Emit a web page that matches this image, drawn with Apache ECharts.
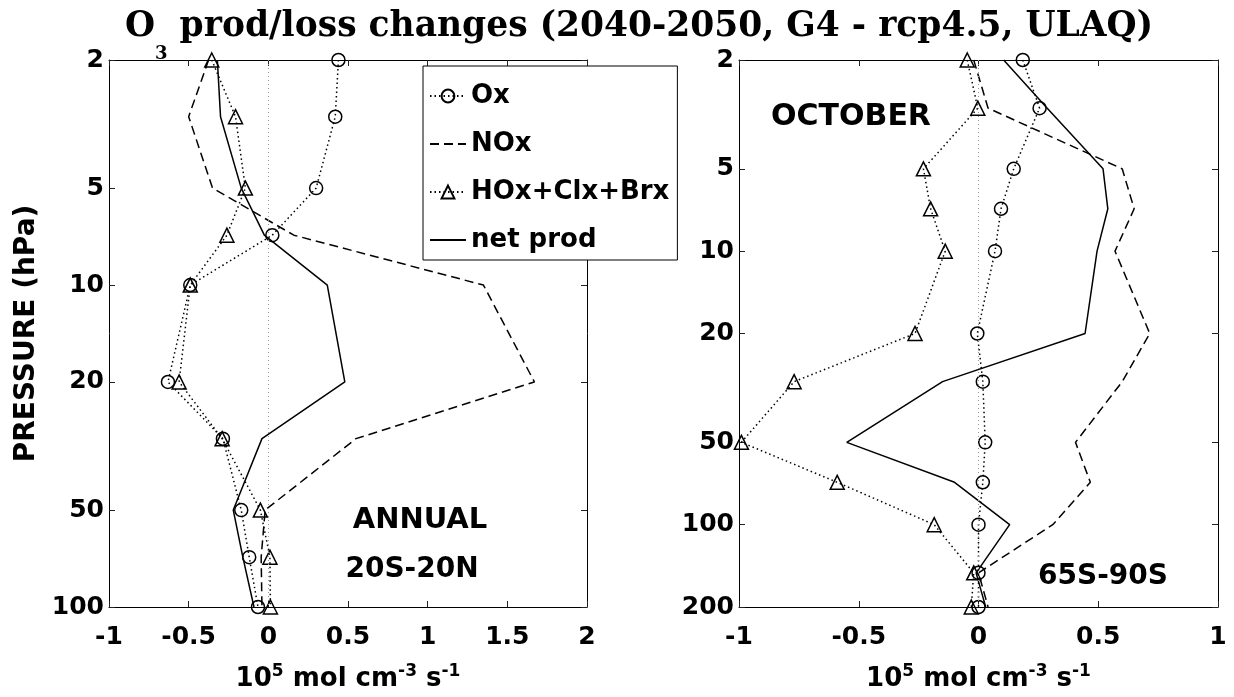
<!DOCTYPE html>
<html>
<head>
<meta charset="utf-8">
<script src="https://cdn.jsdelivr.net/npm/echarts@6/dist/echarts.min.js"></script>
<style>
  html, body { margin: 0; padding: 0; background: #fff; }
  #chart { width: 1234px; height: 697px; }
</style>
</head>
<body>
<div id="chart"></div>
<script>
// pressure levels (hPa)
const levelsL = [2, 3, 5, 7, 10, 20, 30, 50, 70, 100];
const levelsR = [2, 3, 5, 7, 10, 20, 30, 50, 70, 100, 150, 200];

// ANNUAL 20S-20N
const oxL  = [0.44, 0.42, 0.30, 0.025, -0.49, -0.63, -0.285, -0.17, -0.12, -0.065];
const noxL = [-0.375, -0.50, -0.35, 0.16, 1.35, 1.67, 0.55, -0.02, -0.045, -0.04];
const hoxL = [-0.355, -0.206, -0.144, -0.26, -0.49, -0.56, -0.29, -0.05, 0.01, 0.013];
const netL = [-0.32, -0.30, -0.17, -0.025, 0.37, 0.48, -0.04, -0.22, -0.16, -0.09];

// OCTOBER 65S-90S
const oxR  = [0.185, 0.255, 0.147, 0.094, 0.069, -0.005, 0.018, 0.028, 0.018, 0.0, 0.0, 0.0];
const noxR = [-0.02, 0.04, 0.60, 0.65, 0.57, 0.715, 0.60, 0.405, 0.467, 0.31, 0.0, 0.04];
const hoxR = [-0.047, -0.003, -0.23, -0.20, -0.139, -0.265, -0.77, -0.99, -0.59, -0.185, -0.02, -0.03];
const netR = [0.105, 0.287, 0.52, 0.54, 0.495, 0.445, -0.15, -0.55, -0.10, 0.13, -0.01, 0.03];

const ticksL = [2, 5, 10, 20, 50, 100];
const ticksR = [2, 5, 10, 20, 50, 100, 200];

const FONT = 'DejaVu Sans';
const lg = p => Math.log10(p);
const pairs = (xs, ps) => xs.map((x, i) => [x, lg(ps[i])]);

function xAx(grid, max, top) {
  return {
    type: 'value', gridIndex: grid, min: -1, max: max, interval: 0.5,
    position: top ? 'top' : 'bottom',
    axisLine: { show: true, onZero: false, lineStyle: { color: '#000', width: 1 } },
    axisTick: { show: true, inside: true, length: 6, lineStyle: { color: '#222' } },
    splitLine: { show: false },
    axisLabel: {
      show: !top, margin: 18, color: '#000',
      fontFamily: FONT, fontWeight: 'bold', fontSize: 25
    },
    name: top ? '' : '{b|10}{sup|5}{b| mol cm}{sup|-3}{b| s}{sup|-1}',
    nameLocation: 'middle', nameGap: 56,
    nameTextStyle: {
      rich: {
        b: { fontFamily: FONT, fontWeight: 'bold', fontSize: 26, color: '#000', verticalAlign: 'bottom', padding: [3, 0, 0, 0] },
        sup: { fontFamily: FONT, fontWeight: 'bold', fontSize: 17, color: '#000', verticalAlign: 'top' }
      }
    }
  };
}

function yAx(grid, ticks, maxP, right, withName) {
  const vals = ticks.map(lg);
  return {
    type: 'value', gridIndex: grid, inverse: true,
    min: lg(2), max: lg(maxP),
    position: right ? 'right' : 'left',
    axisLine: { show: true, onZero: false, lineStyle: { color: '#000', width: 1 } },
    axisTick: { show: true, inside: true, length: 6, customValues: vals, lineStyle: { color: '#222' } },
    splitLine: { show: false },
    axisLabel: {
      show: !right, customValues: vals, margin: 5, color: '#000',
      fontFamily: FONT, fontWeight: 'bold', fontSize: 25,
      formatter: v => String(Math.round(Math.pow(10, v)))
    },
    name: withName ? 'PRESSURE (hPa)' : '',
    nameLocation: 'middle', nameGap: 68,
    nameTextStyle: { fontFamily: FONT, fontWeight: 'bold', fontSize: 28, color: '#000' }
  };
}

function mk(name, xs, ps, ax, kind) {
  const s = {
    name: name, type: 'line', xAxisIndex: ax, yAxisIndex: ax,
    data: pairs(xs, ps), clip: false, animation: false,
    lineStyle: { color: '#000', width: 1.5 },
    itemStyle: { color: 'rgba(255,255,255,0)', borderColor: 'rgba(0,0,0,0)', borderWidth: 0 },
    symbol: 'none', z: 3
  };
  if (kind === 'ox' || kind === 'hox') {
    s.symbol = kind === 'ox' ? 'circle' : 'triangle';
    s.symbolSize = kind === 'ox' ? 13 : 14;
    s.lineStyle.type = [1.5, 3];
    s.itemStyle = { color: 'rgba(255,255,255,0)', borderColor: '#000', borderWidth: 1.5 };
  }
  if (kind === 'nox') { s.lineStyle.type = [9, 5]; }
  return s;
}

function zeroLine(ax) {
  return {
    type: 'line', xAxisIndex: ax, yAxisIndex: ax, data: [], silent: true,
    markLine: {
      silent: true, symbol: ['none', 'none'], label: { show: false }, animation: false,
      lineStyle: { color: '#999', type: [1, 3], width: 1 },
      data: [{ xAxis: 0 }]
    }
  };
}

const txt = (s, x, y, size) => ({
  type: 'text', x: x, y: y, z: 10,
  style: { text: s, fill: '#000', fontFamily: FONT, fontWeight: 'bold', fontSize: size, align: 'center', verticalAlign: 'middle' }
});

const chart = echarts.init(document.getElementById('chart'), null, { renderer: 'canvas' });
chart.setOption({
  backgroundColor: '#fff',
  animation: false,
  title: {
    text: '{m|O}{s|3}{m| prod/loss changes (2040-2050, G4 - rcp4.5, ULAQ)}',
    left: 125, top: 10, padding: 0,
    textStyle: {
      rich: {
        m: { fontFamily: 'DejaVu Serif', fontSize: 34.5, color: '#000', verticalAlign: 'bottom', padding: [0, 0, 18, 0] },
        s: { fontFamily: 'DejaVu Serif', fontSize: 18, color: '#000', verticalAlign: 'bottom' }
      }
    }
  },
  legend: {
    orient: 'vertical', left: 423, top: 66,
    padding: [17, 8, 7, 6], itemGap: 22, itemWidth: 36, itemHeight: 16,
    selectedMode: false,
    borderColor: '#000', borderWidth: 1, backgroundColor: '#fff',
    textStyle: { fontFamily: FONT, fontWeight: 'bold', fontSize: 26, color: '#000' },
    data: ['Ox', 'NOx', 'HOx+Clx+Brx', 'net prod']
  },
  grid: [
    { left: 109, top: 60, width: 478, height: 549 },
    { left: 739, top: 60, width: 479, height: 549 }
  ],
  xAxis: [xAx(0, 2, false), xAx(0, 2, true), xAx(1, 1, false), xAx(1, 1, true)],
  yAxis: [
    yAx(0, ticksL, 100, false, true), yAx(0, ticksL, 100, true, false),
    yAx(1, ticksR, 200, false, false), yAx(1, ticksR, 200, true, false)
  ],
  series: [
    zeroLine(0), zeroLine(2),
    mk('Ox', oxL, levelsL, 0, 'ox'),
    mk('NOx', noxL, levelsL, 0, 'nox'),
    mk('HOx+Clx+Brx', hoxL, levelsL, 0, 'hox'),
    mk('net prod', netL, levelsL, 0, 'net'),
    mk('Ox', oxR, levelsR, 2, 'ox'),
    mk('NOx', noxR, levelsR, 2, 'nox'),
    mk('HOx+Clx+Brx', hoxR, levelsR, 2, 'hox'),
    mk('net prod', netR, levelsR, 2, 'net')
  ],
  graphic: [
    txt('ANNUAL', 420, 520, 29),
    txt('20S-20N', 412, 570, 28),
    txt('OCTOBER', 851, 117, 30),
    txt('65S-90S', 1103, 577, 28)
  ]
});
</script>
</body>
</html>
